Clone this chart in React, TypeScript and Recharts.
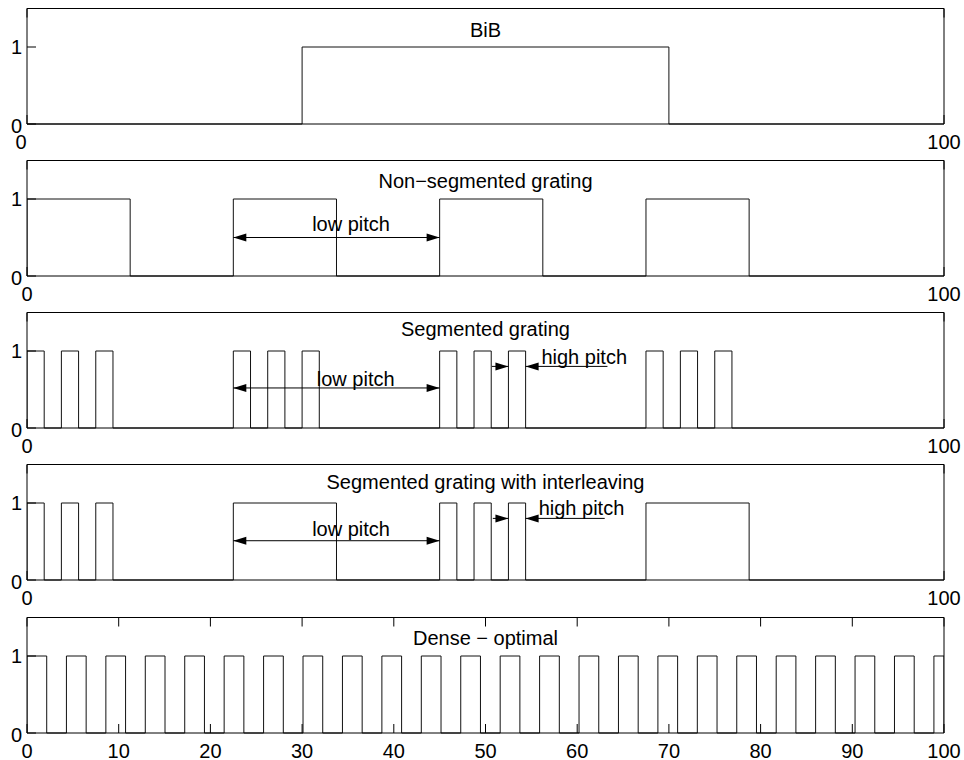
import React from "react";
import { LineChart, Line, XAxis, YAxis, ReferenceLine, ReferenceDot } from "recharts";

type Pulse = [number, number];

// pulse edges [rise, fall]
const bibPulses: Pulse[] = [[30, 70]];

const nonSegmentedPulses: Pulse[] = [
  [0, 11.25], [22.5, 33.75], [45, 56.25], [67.5, 78.75],
];

const segmentedPulses: Pulse[] = [
  [0, 1.875], [3.75, 5.625], [7.5, 9.375],
  [22.5, 24.375], [26.25, 28.125], [30, 31.875],
  [45, 46.875], [48.75, 50.625], [52.5, 54.375],
  [67.5, 69.375], [71.25, 73.125], [75, 76.875],
];

const interleavedPulses: Pulse[] = [
  [0, 1.875], [3.75, 5.625], [7.5, 9.375],
  [22.5, 33.75],
  [45, 46.875], [48.75, 50.625], [52.5, 54.375],
  [67.5, 78.75],
];

const densePulses: Pulse[] = [
  [0, 2.15], [4.3, 6.45], [8.6, 10.75], [12.9, 15.05], [17.2, 19.35], [21.5, 23.65],
  [25.8, 27.95], [30.1, 32.25], [34.4, 36.55], [38.7, 40.85], [43, 45.15], [47.3, 49.45],
  [51.6, 53.75], [55.9, 58.05], [60.2, 62.35], [64.5, 66.65], [68.8, 70.95], [73.1, 75.25],
  [77.4, 79.55], [81.7, 83.85], [86, 88.15], [90.3, 92.45], [94.6, 96.75], [98.9, 100],
];

const titles = [
  "BiB",
  "Non\u2212segmented grating",
  "Segmented grating",
  "Segmented grating with interleaving",
  "Dense \u2212 optimal",
];

const endTicks = [0, 100];
const denseTicks = [0, 10, 20, 30, 40, 50, 60, 70, 80, 90, 100];
const yTicks = [0, 1];

type Note = { text: string; x: number; y: number };
type Arrow = { from: number; to: number; y: number; both?: boolean };

const FONT = "'Liberation Sans', Arial, Helvetica, sans-serif";
const PLOT_H = 115.5;
const AXIS_H = 32;
const PAD_TOP = 2.5;

function toSteps(pulses: Pulse[]) {
  const pts: { x: number; y: number }[] = [];
  if (pulses[0][0] > 0) pts.push({ x: 0, y: 0 });
  pulses.forEach(([s, e]) => {
    pts.push({ x: s, y: 0 }, { x: s, y: 1 }, { x: e, y: 1 }, { x: e, y: 0 });
  });
  if (pulses[pulses.length - 1][1] < 100) pts.push({ x: 100, y: 0 });
  return pts;
}

function ArrowShape(props: any) {
  const { x1, y1, x2, y2, both } = props;
  const head = (tx: number, ty: number, fx: number) => {
    const d = Math.sign(tx - fx) || 1;
    const L = 13;
    const W = 4;
    return (
      <polygon
        points={`${tx},${ty} ${tx - d * L},${ty - W} ${tx - d * L},${ty + W}`}
        fill="#000"
      />
    );
  };
  return (
    <g>
      <line x1={x1} y1={y1} x2={x2} y2={y2} stroke="#000" strokeWidth={1} />
      {head(x2, y2, x1)}
      {both && head(x1, y1, x2)}
    </g>
  );
}

function BottomTick(props: any) {
  const { x, y, payload, zeroShift } = props;
  const dx = payload.value === 0 ? zeroShift : 0;
  return (
    <text x={x + dx} y={y + 25} textAnchor="middle" fontSize={20} fill="#000">
      {payload.value}
    </text>
  );
}

function LeftTick(props: any) {
  const { y, payload } = props;
  return (
    <text x={22} y={y + (payload.value === 0 ? 8.5 : 7)} textAnchor="end" fontSize={20} fill="#000">
      {payload.value}
    </text>
  );
}

const NoLabel = () => <g />;

type PanelProps = {
  pulses: Pulse[];
  title: string;
  titleY: number;
  ticks: number[];
  plotTop: number;
  notes?: Note[];
  arrows?: Arrow[];
  zeroShift?: number;
};

function Panel({ pulses, title, titleY, ticks, plotTop, notes = [], arrows = [], zeroShift = 0 }: PanelProps) {
  const data = toSteps(pulses);
  const axisLine = { stroke: "#000", strokeWidth: 1 };
  return (
    <div style={{ position: "absolute", left: 0, top: plotTop - PAD_TOP }}>
      <LineChart
        width={964}
        height={PAD_TOP + PLOT_H + AXIS_H}
        data={data}
        margin={{ top: PAD_TOP - 1, right: 19, bottom: 0, left: 0 }}
      >
        <XAxis
          xAxisId="b"
          type="number"
          dataKey="x"
          domain={[0, 100]}
          ticks={ticks}
          interval={0}
          height={AXIS_H}
          axisLine={axisLine}
          tickLine={{ stroke: "#000" }}
          tickSize={-9}
          tickMargin={9}
          tick={(p: any) => <BottomTick {...p} zeroShift={zeroShift} />}
          allowDataOverflow
        />
        <XAxis
          xAxisId="t"
          orientation="top"
          type="number"
          dataKey="x"
          domain={[0, 100]}
          ticks={ticks}
          interval={0}
          height={1}
          axisLine={axisLine}
          tickLine={{ stroke: "#000" }}
          tickSize={-9}
          tick={NoLabel}
        />
        <YAxis
          yAxisId="l"
          type="number"
          domain={[0, 1.5]}
          ticks={yTicks}
          interval={0}
          width={27}
          axisLine={axisLine}
          tickLine={{ stroke: "#000" }}
          tickSize={-9}
          tickMargin={15}
          tick={(p: any) => <LeftTick {...p} />}
        />
        <YAxis
          yAxisId="r"
          orientation="right"
          type="number"
          domain={[0, 1.5]}
          ticks={yTicks}
          interval={0}
          width={1}
          axisLine={axisLine}
          tickLine={{ stroke: "#000" }}
          tickSize={-9}
          tick={NoLabel}
        />
        <Line
          xAxisId="b"
          yAxisId="l"
          type="linear"
          dataKey="y"
          stroke="#111"
          strokeWidth={1}
          dot={false}
          activeDot={false}
          isAnimationActive={false}
        />
        {arrows.map((a, i) => (
          <ReferenceLine
            key={`a${i}`}
            xAxisId="b"
            yAxisId="l"
            segment={[{ x: a.from, y: a.y }, { x: a.to, y: a.y }]}
            shape={(p: any) => <ArrowShape {...p} both={a.both} />}
          />
        ))}
        <ReferenceDot
          xAxisId="b"
          yAxisId="l"
          x={50}
          y={titleY}
          r={0}
          fill="none"
          stroke="none"
          label={{ value: title, position: "center", fontSize: 20, fill: "#000" }}
        />
        {notes.map((n, i) => (
          <ReferenceDot
            key={`n${i}`}
            xAxisId="b"
            yAxisId="l"
            x={n.x}
            y={n.y}
            r={0}
            fill="none"
            stroke="none"
            label={{ value: n.text, position: "right", offset: 0, fontSize: 20, fill: "#000" }}
          />
        ))}
      </LineChart>
    </div>
  );
}

export default function App() {
  return (
    <div
      style={{
        position: "absolute",
        left: 0,
        top: 0,
        width: 964,
        height: 760,
        overflow: "hidden",
        background: "#fff",
        fontFamily: FONT,
      }}
    >
      <Panel pulses={bibPulses} title={titles[0]} titleY={1.22} ticks={endTicks} plotTop={8.2} zeroShift={-6} />
      <Panel
        pulses={nonSegmentedPulses}
        title={titles[1]}
        titleY={1.23}
        ticks={endTicks}
        plotTop={160.3}
        notes={[{ text: "low pitch", x: 31.1, y: 0.68 }]}
        arrows={[{ from: 22.5, to: 45, y: 0.5, both: true }]}
      />
      <Panel
        pulses={segmentedPulses}
        title={titles[2]}
        titleY={1.29}
        ticks={endTicks}
        plotTop={312.4}
        notes={[
          { text: "low pitch", x: 31.6, y: 0.64 },
          { text: "high pitch", x: 56.1, y: 0.92 },
        ]}
        arrows={[
          { from: 22.5, to: 45, y: 0.52, both: true },
          { from: 50.7, to: 52.5, y: 0.8 },
          { from: 63.3, to: 54.375, y: 0.8 },
        ]}
      />
      <Panel
        pulses={interleavedPulses}
        title={titles[3]}
        titleY={1.27}
        ticks={endTicks}
        plotTop={464.8}
        notes={[
          { text: "low pitch", x: 31.1, y: 0.67 },
          { text: "high pitch", x: 55.8, y: 0.94 },
        ]}
        arrows={[
          { from: 22.5, to: 45, y: 0.51, both: true },
          { from: 50.8, to: 52.5, y: 0.8 },
          { from: 63.0, to: 54.375, y: 0.8 },
        ]}
      />
      <Panel pulses={densePulses} title={titles[4]} titleY={1.24} ticks={denseTicks} plotTop={617} />
    </div>
  );
}
